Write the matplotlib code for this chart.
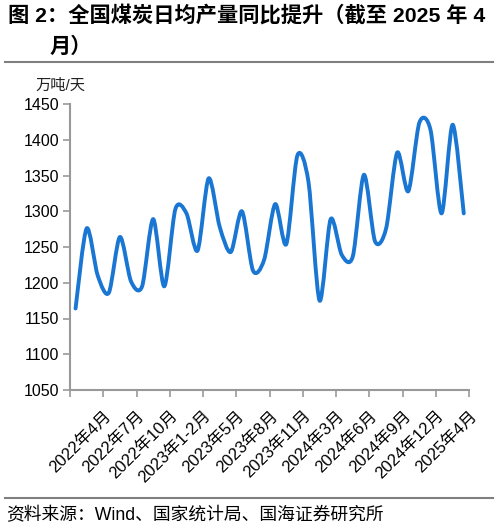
import matplotlib
matplotlib.use('Agg')
import matplotlib.pyplot as plt
from matplotlib.path import Path
from matplotlib.patches import PathPatch
from matplotlib.lines import Line2D
import numpy as np

plt.rcParams['font.family'] = ['Liberation Sans', 'Noto Sans CJK SC', 'DejaVu Sans']

# monthly categories, Jan-Feb merged (2022年1-2月 ... 2025年4月)
months = ['2022年1-2月', '2022年3月', '2022年4月', '2022年5月', '2022年6月', '2022年7月',
          '2022年8月', '2022年9月', '2022年10月', '2022年11月', '2022年12月',
          '2023年1-2月', '2023年3月', '2023年4月', '2023年5月', '2023年6月', '2023年7月',
          '2023年8月', '2023年9月', '2023年10月', '2023年11月', '2023年12月',
          '2024年1-2月', '2024年3月', '2024年4月', '2024年5月', '2024年6月', '2024年7月',
          '2024年8月', '2024年9月', '2024年10月', '2024年11月', '2024年12月',
          '2025年1-2月', '2025年3月', '2025年4月']
# 万吨/天
output = [1164, 1276, 1210, 1186, 1264, 1202, 1195, 1289, 1195, 1303, 1297, 1245,
          1346, 1278, 1243, 1300, 1217, 1232, 1310, 1254, 1378, 1341, 1175, 1289,
          1239, 1237, 1351, 1258, 1276, 1382, 1328, 1424, 1414, 1297, 1421, 1297]

W, H = 498, 531
fig = plt.figure(figsize=(W / 100, H / 100), dpi=100)
ax = fig.add_axes([70 / W, 1 - 390 / H, 399.3 / W, 286 / H])

# smoothed line (cardinal spline as cubic Bezier), like Excel's smoothed line
x = np.arange(len(output), dtype=float)
y = np.array(output, dtype=float)
pts = np.column_stack([x, y])
ext = np.vstack([pts[0], pts, pts[-1]])
k = 7.0
verts = [pts[0]]
codes = [Path.MOVETO]
for i in range(len(pts) - 1):
    p0, p1, p2, p3 = ext[i], ext[i + 1], ext[i + 2], ext[i + 3]
    c1 = p1 + (p2 - p0) / k
    c2 = p2 - (p3 - p1) / k
    verts += [c1, c2, p2]
    codes += [Path.CURVE4] * 3
ax.add_patch(PathPatch(Path(verts, codes), fill=False, edgecolor='#1976D2',
                       lw=2.8, capstyle='round', joinstyle='round'))

ax.set_xlim(-0.5, len(output) - 0.5)
ax.set_ylim(1050, 1450)
ax.set_yticks(np.arange(1050, 1451, 50))

step = 3
bounds = np.arange(-0.5, len(output), step)
ax.set_xticks(bounds)
ax.set_xticklabels([''] + [months[int(b - 0.5)] for b in bounds[1:]])
ax.tick_params(axis='x', rotation=45, labelsize=12, length=5, pad=8,
               color='#999999', width=1.2)
for lab in ax.get_xticklabels():
    lab.set_ha('right')
    lab.set_va('top')
    lab.set_rotation_mode('anchor')
ax.tick_params(axis='y', labelsize=11.5, length=5, pad=3, color='#999999', width=1.2)

for s in ['top', 'right']:
    ax.spines[s].set_visible(False)
for s in ['left', 'bottom']:
    ax.spines[s].set_color('#999999')
    ax.spines[s].set_linewidth(1.5)

fig.text(35 / W, 1 - 86 / H, '万吨/天', fontsize=11, va='center', ha='left', color='#222222')

# title and source
fig.text(8 / W, 1 - 5 / H, '图 2：全国煤炭日均产量同比提升（截至 2025 年 4',
         fontsize=15.3, fontweight='bold', va='top', ha='left')
fig.text(50 / W, 1 - 36 / H, '月）', fontsize=15.3, fontweight='bold', va='top', ha='left')
fig.add_artist(Line2D([5 / W, 493 / W], [1 - 62 / H] * 2, color='#7f7f7f', lw=1.5))
fig.add_artist(Line2D([5 / W, 493 / W], [1 - 498 / H] * 2, color='#7f7f7f', lw=1.5))
fig.text(6 / W, 1 - 516 / H, '资料来源：Wind、国家统计局、国海证券研究所',
         fontsize=12.8, va='center', ha='left')

fig.savefig('out.png', dpi=100)
